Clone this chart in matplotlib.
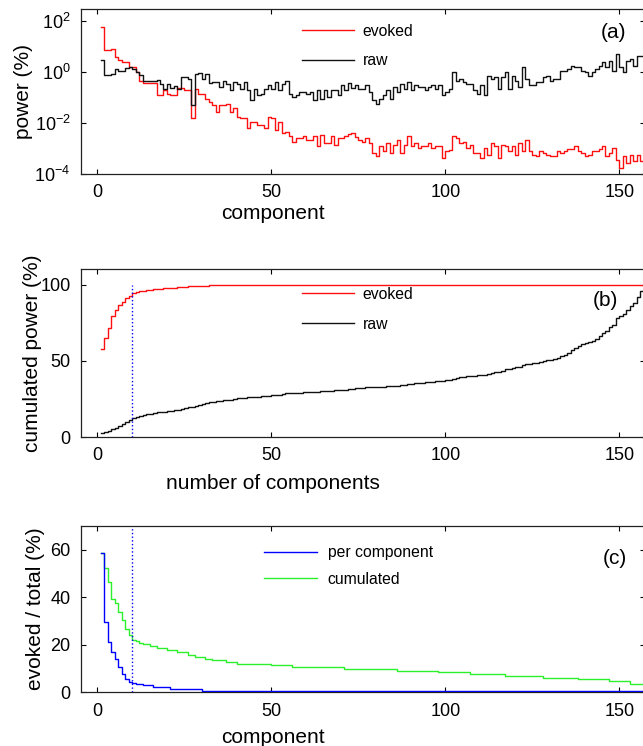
import numpy as np
import matplotlib
matplotlib.use("Agg")
import matplotlib.pyplot as plt
from matplotlib.ticker import FixedLocator, NullLocator, LogFormatterSciNotation

plt.rcParams['font.family'] = ['Liberation Sans', 'DejaVu Sans']
plt.rcParams['mathtext.fontset'] = 'custom'
plt.rcParams['mathtext.rm'] = 'Liberation Sans'
plt.rcParams['mathtext.it'] = 'Liberation Sans:italic'

# ---------------- data ----------------
components = np.arange(1, 158)

# panel (a): power per component, stored as log10 of percent
evoked_log10 = [
    1.76, 0.85, 0.85, 0.90, 0.57, 0.46, 0.40, 0.37, 0.18, 0.18,
    0.01, -0.34, -0.44, -0.44, -0.44, -0.44, -0.92, -0.92, -0.72, -0.85,
    -0.90, -0.90, -0.65, -0.65, -0.72, -0.72, -1.82, -0.66, -0.85, -0.85,
    -1.05, -1.18, -1.30, -1.56, -1.30, -1.30, -1.25, -1.56, -1.43, -1.76,
    -1.82, -1.82, -2.21, -1.95, -1.95, -2.08, -2.08, -2.21, -1.76, -1.80,
    -2.28, -1.95, -2.40, -2.34, -2.50, -2.73, -2.60, -2.60, -2.51, -2.66,
    -2.66, -2.53, -2.92, -2.47, -2.79, -2.79, -2.50, -2.85, -2.60, -2.60,
    -2.50, -2.45, -2.40, -2.55, -2.65, -2.73, -2.60, -2.79, -3.18, -3.31,
    -2.92, -3.10, -2.79, -3.18, -2.85, -2.66, -3.18, -2.85, -2.53, -2.92,
    -2.79, -2.98, -2.92, -2.92, -2.79, -2.98, -2.92, -2.92, -3.37, -3.10,
    -3.05, -2.53, -2.60, -2.79, -2.73, -2.98, -2.85, -3.18, -3.18, -3.37,
    -2.98, -3.24, -2.79, -2.92, -3.37, -2.85, -2.92, -3.10, -2.92, -3.24,
    -2.79, -3.10, -2.66, -3.10, -3.24, -3.31, -3.10, -3.18, -3.24, -3.31,
    -3.31, -3.10, -3.18, -3.10, -3.04, -3.04, -2.90, -3.10, -3.18, -3.31,
    -3.24, -3.10, -3.10, -3.04, -2.92, -3.31, -3.18, -2.98, -3.44, -3.77,
    -3.31, -3.57, -3.24, -3.50, -3.24, -3.50, -3.50]

raw_log10 = [
    0.46, -0.12, -0.12, -0.10, 0.12, 0.05, 0.05, 0.15, 0.18, 0.12,
    -0.01, -0.14, -0.34, -0.34, -0.34, -0.34, -0.30, -0.47, -0.67, -0.47,
    -0.64, -0.56, -0.66, -0.21, -0.21, -0.28, -1.30, -0.08, -0.05, -0.28,
    -0.10, -0.44, -0.40, -0.40, -0.60, -0.34, -0.47, -0.72, -0.40, -0.47,
    -0.66, -0.40, -0.72, -1.10, -0.66, -0.92, -0.85, -0.66, -0.53, -0.66,
    -0.40, -0.72, -0.47, -0.34, -0.85, -0.98, -0.92, -0.79, -0.79, -0.85,
    -0.79, -1.10, -0.72, -1.05, -0.72, -0.98, -0.72, -0.72, -0.92, -0.53,
    -0.72, -0.44, -0.62, -0.53, -0.66, -0.66, -0.53, -0.79, -1.10, -1.24,
    -1.05, -0.92, -0.72, -1.05, -0.60, -0.79, -0.47, -0.66, -0.40, -0.72,
    -0.53, -0.60, -0.60, -0.72, -0.60, -0.53, -0.66, -0.53, -0.92, -0.79,
    -0.66, -0.02, -0.34, -0.28, -0.40, -0.47, -0.47, -0.72, -0.85, -0.53,
    -0.92, -0.15, -0.28, -0.21, -0.66, -0.21, -0.02, -0.66, -0.15, -0.34,
    -0.60, 0.18, -0.28, -0.53, -0.53, -0.40, -0.40, -0.21, -0.15, -0.34,
    -0.28, -0.28, 0.05, 0.05, 0.12, 0.24, 0.18, 0.18, 0.05, -0.02,
    -0.15, -0.02, 0.12, 0.24, 0.37, 0.18, 0.44, 0.05, 0.70, 0.18,
    -0.02, 0.44, 0.50, 0.24, 0.63, 0.63, 0.63]

# panel (c): evoked / total (%)
ratio_per_component = (
    [58.5, 29.6, 21.0, 16.8, 14.2, 10.8, 7.5, 5.4, 4.4, 4.0,
     3.6, 3.5, 3.0, 3.0, 3.0, 2.4, 2.4, 2.4, 2.4, 2.4,
     1.4, 1.4, 1.4, 1.4, 1.4, 1.4, 1.4, 1.4, 1.4]
    + [0.6] * 128)
ratio_cumulated = (
    [58.5, 52.4, 46.4, 39.4, 37.6, 33.8, 30.3, 26.8, 24.0, 21.9,
     21.7, 20.9, 20.3, 20.3, 19.5, 19.5, 18.7, 18.7, 18.7, 17.8,
     17.8, 17.8, 17.1, 17.1, 17.1, 15.7, 15.7, 15.0, 15.0, 15.0,
     14.2, 14.2, 13.4, 13.4, 13.4, 13.4, 12.7, 12.7, 12.7]
    + [12.0] * 10 + [11.3] * 6 + [10.6] * 15 + [9.9] * 15 + [9.1] * 12
    + [8.4] * 9 + [7.7] * 10 + [6.8] * 11 + [6.1] * 10 + [5.4] * 9
    + [4.6] * 6 + [3.6] * 5)

marker_component = 10

# ---------------- derived series ----------------
evoked = 10.0 ** np.array(evoked_log10)
raw = 10.0 ** np.array(raw_log10)
cum_evoked = np.cumsum(evoked) / evoked.sum() * 100
cum_raw = np.cumsum(raw) / raw.sum() * 100

# ---------------- figure ----------------
W, H = 643, 746
fig = plt.figure(figsize=(W / 100, H / 100), dpi=100)

def axes_px(left, right, top, bottom):
    return fig.add_axes([left / W, (H - bottom) / H, (right - left) / W, (bottom - top) / H])

axA = axes_px(81, 645, 9.3, 174)
axB = axes_px(81, 645, 269.3, 437)
axC = axes_px(81, 645, 525.7, 692.3)

RED = '#ff1010'
BLACK = '#111111'
BLUE = '#0000ff'
GREEN = '#2cf02c'
LW = 1.0
TICKFS = 13
LABFS = 15
LEGFS = 11.3

for ax in (axA, axB, axC):
    ax.set_xlim(-4.7, 157.35)
    ax.set_xticks([0, 50, 100, 150])
    ax.tick_params(direction='in', top=True, right=True, length=3.5, width=0.8,
                   labelsize=TICKFS, pad=7.5)
    for s in ax.spines.values():
        s.set_linewidth(0.9)
        s.set_color('#222222')

leg_kw = dict(loc='upper left', frameon=False, fontsize=LEGFS,
              borderpad=0, borderaxespad=0)

# (a)
axA.step(components, evoked, where='post', color=RED, lw=LW, label='evoked')
axA.step(components, raw, where='post', color=BLACK, lw=LW, label='raw')
axA.set_yscale('log')
axA.set_ylim(1e-4, 10 ** 2.45)
axA.yaxis.set_major_locator(FixedLocator([1e-4, 1e-2, 1e0, 1e2]))
axA.yaxis.set_minor_locator(NullLocator())
axA.yaxis.set_major_formatter(LogFormatterSciNotation())
axA.set_xlabel('component', fontsize=LABFS)
axA.set_ylabel('power (%)', fontsize=LABFS)
axA.xaxis.set_label_coords(0.34, -0.183)
axA.yaxis.set_label_coords(-0.085, 0.5)
axA.legend(bbox_to_anchor=(0.392, 0.911), handlelength=3.3, handletextpad=0.55,
           labelspacing=0.92, **leg_kw)
axA.text(0.945, 0.862, '(a)', transform=axA.transAxes, fontsize=LABFS,
         ha='center', va='center')

# (b)
axB.step(components, cum_evoked, where='post', color=RED, lw=LW, label='evoked')
axB.step(components, cum_raw, where='post', color=BLACK, lw=LW, label='raw')
axB.plot([marker_component, marker_component], [0, 100], ls=':', color=BLUE, lw=1.0)
axB.set_ylim(0, 110)
axB.set_yticks([0, 50, 100])
axB.set_xlabel('number of components', fontsize=LABFS)
axB.set_ylabel('cumulated power (%)', fontsize=LABFS)
axB.xaxis.set_label_coords(0.34, -0.218)
axB.yaxis.set_label_coords(-0.07, 0.5)
axB.legend(bbox_to_anchor=(0.392, 0.896), handlelength=3.3, handletextpad=0.55,
           labelspacing=0.95, **leg_kw)
axB.text(0.929, 0.813, '(b)', transform=axB.transAxes, fontsize=LABFS,
         ha='center', va='center')

# (c)
axC.step(components, ratio_cumulated, where='post', color=GREEN, lw=LW, label='cumulated', zorder=2)
axC.step(components, ratio_per_component, where='post', color=BLUE, lw=LW, label='per component', zorder=3)
axC.plot([marker_component, marker_component], [0, 70], ls=':', color=BLUE, lw=1.0)
axC.set_ylim(0, 70)
axC.set_yticks([0, 20, 40, 60])
axC.set_xlabel('component', fontsize=LABFS)
axC.set_ylabel('evoked / total (%)', fontsize=LABFS)
axC.xaxis.set_label_coords(0.34, -0.212)
axC.yaxis.set_label_coords(-0.064, 0.5)
h, l = axC.get_legend_handles_labels()
axC.legend([h[1], h[0]], [l[1], l[0]], bbox_to_anchor=(0.3245, 0.884),
           handlelength=3.4, handletextpad=0.65, labelspacing=0.76, **leg_kw)
axC.text(0.947, 0.806, '(c)', transform=axC.transAxes, fontsize=LABFS,
         ha='center', va='center')

fig.savefig('out.png', dpi=100)
